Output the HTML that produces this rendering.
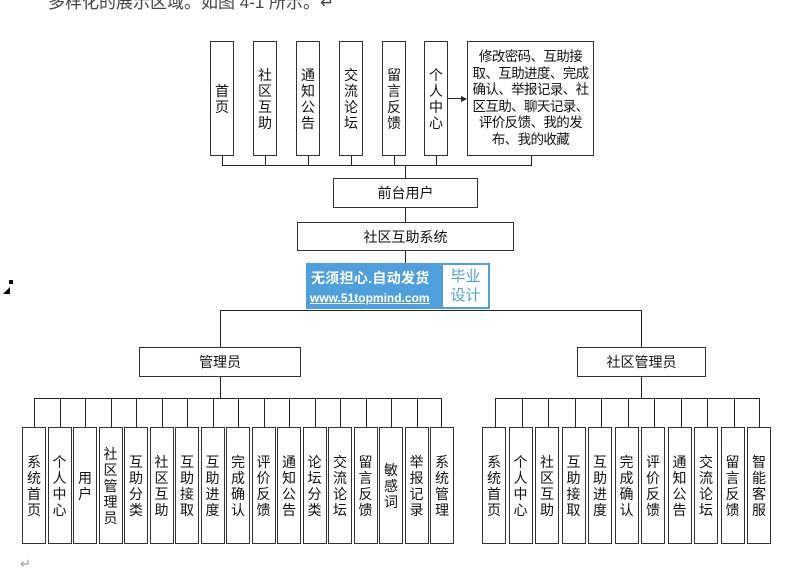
<!DOCTYPE html>
<html><head><meta charset="utf-8"><style>
body{margin:0;width:797px;height:573px;background:#fff;position:relative;overflow:hidden;font-family:"Liberation Sans","Noto Sans CJK SC",sans-serif;color:#111}
.b{position:absolute;border:1.3px solid #333;box-sizing:border-box;background:#fff;display:flex;align-items:center;justify-content:center;text-align:center}
.v{font-size:14px;line-height:16px;width:15px;word-break:break-all}
.h{position:absolute;background:#222;height:1.3px}
.vl{position:absolute;background:#222;width:1.3px}
.t{font-size:14px}
</style></head><body>
<div style="position:absolute;left:48px;top:-12px;font-size:17px;color:#444">多样化的展示区域。如图 4-1 所示。↵</div>
<div style="position:absolute;left:9px;top:280px;width:4px;height:4px;background:#000"></div>
<div style="position:absolute;left:3px;top:287px;width:0;height:0;border-left:7px solid transparent;border-bottom:7px solid #000"></div>
<div style="position:absolute;left:20px;top:556px;font-size:13px;color:#999">↵</div>

<div class="b" style="left:210px;top:41px;width:24px;height:115px"><div class="v">首页</div></div>
<div class="b" style="left:253px;top:41px;width:24px;height:115px"><div class="v">社区互助</div></div>
<div class="b" style="left:296px;top:41px;width:24px;height:115px"><div class="v">通知公告</div></div>
<div class="b" style="left:339px;top:41px;width:24px;height:115px"><div class="v">交流论坛</div></div>
<div class="b" style="left:382px;top:41px;width:24px;height:115px"><div class="v">留言反馈</div></div>
<div class="b" style="left:424px;top:41px;width:24px;height:115px"><div class="v">个人中心</div></div>
<div class="b" style="left:467px;top:41px;width:127px;height:115px;font-size:13.5px;line-height:16.5px;white-space:nowrap;letter-spacing:-0.6px">修改密码、互助接<br>取、互助进度、完成<br>确认、举报记录、社<br>区互助、聊天记录、<br>评价反馈、我的发<br>布、我的收藏</div>
<div class="h" style="left:448px;top:98px;width:15px"></div>
<div style="position:absolute;left:461px;top:95.5px;border-left:6px solid #222;border-top:3px solid transparent;border-bottom:3px solid transparent"></div>
<div class="h" style="left:222px;top:165px;width:310px"></div>
<div class="vl" style="left:222px;top:156px;height:10px"></div>
<div class="vl" style="left:265px;top:156px;height:10px"></div>
<div class="vl" style="left:308px;top:156px;height:10px"></div>
<div class="vl" style="left:351px;top:156px;height:10px"></div>
<div class="vl" style="left:394px;top:156px;height:10px"></div>
<div class="vl" style="left:436px;top:156px;height:10px"></div>
<div class="vl" style="left:531px;top:156px;height:10px"></div>
<div class="vl" style="left:405px;top:165px;height:58px"></div>
<div class="vl" style="left:405px;top:250px;height:14px"></div>
<div class="b t" style="left:333px;top:178px;width:145px;height:30px">前台用户</div>
<div class="b t" style="left:297px;top:222px;width:217px;height:29px">社区互助系统</div>

<div style="position:absolute;left:306px;top:263px;width:184px;height:46px;background:#4f9fdc"></div>
<div style="position:absolute;left:311px;top:268px;color:#fff;font-size:14px;font-weight:bold;letter-spacing:0.3px">无须担心.自动发货</div>
<div style="position:absolute;left:310px;top:291px;color:#fff;font-size:12px;font-weight:bold;text-decoration:underline">www.51topmind.com</div>
<div style="position:absolute;left:443px;top:265px;width:45px;height:42px;background:#fff;color:#4f9fdc;font-size:15px;line-height:19px;text-align:center;padding-top:2px;box-sizing:border-box">毕业<br>设计</div>

<div class="h" style="left:220px;top:310px;width:422px"></div>
<div class="vl" style="left:220px;top:310px;height:38px"></div>
<div class="vl" style="left:641px;top:310px;height:38px"></div>
<div class="b t" style="left:139px;top:347px;width:162px;height:30px">管理员</div>
<div class="b t" style="left:577px;top:347px;width:129px;height:30px">社区管理员</div>
<div class="vl" style="left:220px;top:377px;height:22px"></div>
<div class="vl" style="left:641px;top:377px;height:22px"></div>
<div class="h" style="left:34px;top:398px;width:408px"></div>
<div class="h" style="left:495px;top:398px;width:265px"></div>

<div class="b" style="left:22px;top:427px;width:24px;height:117px"><div class="v">系统首页</div></div>
<div class="b" style="left:47.5px;top:427px;width:24px;height:117px"><div class="v">个人中心</div></div>
<div class="b" style="left:73px;top:427px;width:24px;height:117px"><div class="v">用户</div></div>
<div class="b" style="left:98.5px;top:427px;width:24px;height:117px"><div class="v">社区管理员</div></div>
<div class="b" style="left:124px;top:427px;width:24px;height:117px"><div class="v">互助分类</div></div>
<div class="b" style="left:149.5px;top:427px;width:24px;height:117px"><div class="v">社区互助</div></div>
<div class="b" style="left:175px;top:427px;width:24px;height:117px"><div class="v">互助接取</div></div>
<div class="b" style="left:200.5px;top:427px;width:24px;height:117px"><div class="v">互助进度</div></div>
<div class="b" style="left:226px;top:427px;width:24px;height:117px"><div class="v">完成确认</div></div>
<div class="b" style="left:251.5px;top:427px;width:24px;height:117px"><div class="v">评价反馈</div></div>
<div class="b" style="left:277px;top:427px;width:24px;height:117px"><div class="v">通知公告</div></div>
<div class="b" style="left:302.5px;top:427px;width:24px;height:117px"><div class="v">论坛分类</div></div>
<div class="b" style="left:328px;top:427px;width:24px;height:117px"><div class="v">交流论坛</div></div>
<div class="b" style="left:353.5px;top:427px;width:24px;height:117px"><div class="v">留言反馈</div></div>
<div class="b" style="left:379px;top:427px;width:24px;height:117px"><div class="v">敏感词</div></div>
<div class="b" style="left:404.5px;top:427px;width:24px;height:117px"><div class="v">举报记录</div></div>
<div class="b" style="left:430px;top:427px;width:24px;height:117px"><div class="v">系统管理</div></div>
<div class="vl" style="left:34px;top:398px;height:29px"></div>
<div class="vl" style="left:59.5px;top:398px;height:29px"></div>
<div class="vl" style="left:85px;top:398px;height:29px"></div>
<div class="vl" style="left:110.5px;top:398px;height:29px"></div>
<div class="vl" style="left:136px;top:398px;height:29px"></div>
<div class="vl" style="left:161.5px;top:398px;height:29px"></div>
<div class="vl" style="left:187px;top:398px;height:29px"></div>
<div class="vl" style="left:212.5px;top:398px;height:29px"></div>
<div class="vl" style="left:238px;top:398px;height:29px"></div>
<div class="vl" style="left:263.5px;top:398px;height:29px"></div>
<div class="vl" style="left:289px;top:398px;height:29px"></div>
<div class="vl" style="left:314.5px;top:398px;height:29px"></div>
<div class="vl" style="left:340px;top:398px;height:29px"></div>
<div class="vl" style="left:365.5px;top:398px;height:29px"></div>
<div class="vl" style="left:391px;top:398px;height:29px"></div>
<div class="vl" style="left:416.5px;top:398px;height:29px"></div>
<div class="vl" style="left:441px;top:398px;height:29px"></div>

<div class="b" style="left:482px;top:427px;width:24px;height:117px"><div class="v">系统首页</div></div>
<div class="b" style="left:508.5px;top:427px;width:24px;height:117px"><div class="v">个人中心</div></div>
<div class="b" style="left:535px;top:427px;width:24px;height:117px"><div class="v">社区互助</div></div>
<div class="b" style="left:561.5px;top:427px;width:24px;height:117px"><div class="v">互助接取</div></div>
<div class="b" style="left:588px;top:427px;width:24px;height:117px"><div class="v">互助进度</div></div>
<div class="b" style="left:614.5px;top:427px;width:24px;height:117px"><div class="v">完成确认</div></div>
<div class="b" style="left:641px;top:427px;width:24px;height:117px"><div class="v">评价反馈</div></div>
<div class="b" style="left:667.5px;top:427px;width:24px;height:117px"><div class="v">通知公告</div></div>
<div class="b" style="left:694px;top:427px;width:24px;height:117px"><div class="v">交流论坛</div></div>
<div class="b" style="left:720.5px;top:427px;width:24px;height:117px"><div class="v">留言反馈</div></div>
<div class="b" style="left:747px;top:427px;width:24px;height:117px"><div class="v">智能客服</div></div>
<div class="vl" style="left:495px;top:398px;height:29px"></div>
<div class="vl" style="left:521.5px;top:398px;height:29px"></div>
<div class="vl" style="left:548px;top:398px;height:29px"></div>
<div class="vl" style="left:574.5px;top:398px;height:29px"></div>
<div class="vl" style="left:601px;top:398px;height:29px"></div>
<div class="vl" style="left:627.5px;top:398px;height:29px"></div>
<div class="vl" style="left:654px;top:398px;height:29px"></div>
<div class="vl" style="left:680.5px;top:398px;height:29px"></div>
<div class="vl" style="left:707px;top:398px;height:29px"></div>
<div class="vl" style="left:733.5px;top:398px;height:29px"></div>
<div class="vl" style="left:759px;top:398px;height:29px"></div>
</body></html>
